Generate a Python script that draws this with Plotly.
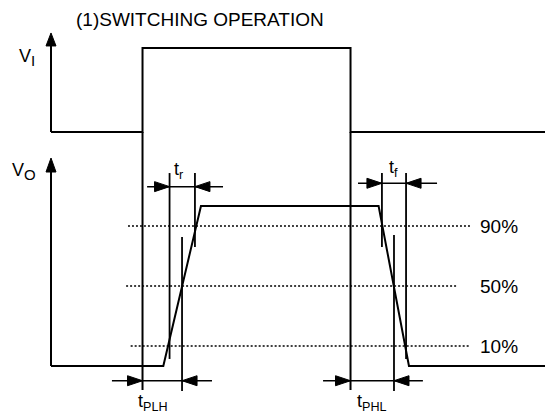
import plotly.graph_objects as go

# ---------------- data (diagram units) ----------------
# time axis in arbitrary units, amplitudes in % of swing
T_END = 241.4

vi_time = [0, 44, 44, 144, 144, T_END]
vi_level = [0, 0, 100, 100, 0, 0]

vo_time = [0, 54, 72.1, 157.5, 172.1, T_END]
vo_level = [0, 0, 100, 100, 0, 0]

# input edge guides extend down through the output panel
edge_time = [44, 144]
edge_bottom = -15
edge_top = 146.25

# threshold levels (as drawn) and their labels
level_pos = [87.5, 50, 12.5]
level_labels = ["90%", "50%", "10%"]
level_start = [37.0, 36.1, 38.3]
level_end = [202.4, 195.7, 201.4]

# vertical measurement guides on output
guide_time = [57, 69.2, 63, 159.1, 170.7, 164.9]
guide_top = [120.6, 120.6, 80.6, 120.6, 120.6, 81.9]
guide_bottom = [4.4, 74.4, -15.6, 74.4, 4.4, -15.6]

# timing intervals (dimension arrows)
interval_names = ["t<sub>r</sub>", "t<sub>f</sub>", "t<sub>PLH</sub>", "t<sub>PHL</sub>"]
interval_start = [57, 159.1, 44, 144]
interval_end = [69.2, 170.7, 63, 164.9]
interval_y = [112.1, 114.2, -9.2, -9.2]
tail_left = [46.2, 147.6, 29.3, 130.8]
tail_right = [82.7, 185.6, 77.4, 178.8]
label_x = [58.0, 161.3, 41.0, 146.0]
label_y = [122.5, 123.7, -22.5, -22.5]

vi_axis_tip = 117.9
vo_axis_tip = 130

TITLE = "(1)SWITCHING OPERATION"
VI_LABEL = "V<sub><span style='font-size:15px'>I</span></sub>"
VO_LABEL = "V<sub><span style='font-size:15px'>O</span></sub>"

# ---------------- layout mapping ----------------
PAGE_W, PAGE_H = 553, 415
OFF = 8                      # default page body margin
W, H = PAGE_W - OFF, PAGE_H - OFF
X0_PX, XSCALE = 51, 2.08     # page px of t=0, px per time unit
VO0_PX, VOSCALE = 366, 1.6   # page px of VO=0, px per %
VI0_PX, VISCALE = 132, 0.84  # page px of VI=0, px per %

X_RANGE = [(OFF - X0_PX) / XSCALE, (OFF + W - X0_PX) / XSCALE]
VO_RANGE = [(VO0_PX - OFF - H) / VOSCALE, (VO0_PX - OFF) / VOSCALE]
VI_RANGE = [(VI0_PX - OFF - H) / VISCALE, (VI0_PX - OFF) / VISCALE]
XPX, VOPX, VIPX = XSCALE, VOSCALE, VISCALE

FONT = "Arial, Liberation Sans, sans-serif"
BLACK = "#000000"
LW = 2

fig = go.Figure()


def line(x, y, yaxis="y", width=LW, dash=None):
    fig.add_trace(go.Scatter(x=x, y=y, mode="lines", yaxis=yaxis,
                             line=dict(color=BLACK, width=width, dash=dash),
                             hoverinfo="skip"))


def head(tx, ty, ux, uy, ypx, yaxis="y", L=14, hw=5):
    bx, by = -ux * L, -uy * L
    pts = [(0, 0), (bx - uy * hw, by + ux * hw), (bx + uy * hw, by - ux * hw), (0, 0)]
    xs = [tx + p[0] / XPX for p in pts]
    ys = [ty + p[1] / ypx for p in pts]
    fig.add_trace(go.Scatter(x=xs, y=ys, mode="lines", fill="toself", yaxis=yaxis,
                             fillcolor=BLACK, line=dict(color=BLACK, width=1),
                             hoverinfo="skip"))


# input waveform and axis
line(vi_time, vi_level, yaxis="y2")
line([0, 0], [0, vi_axis_tip - 8], yaxis="y2")
head(0, vi_axis_tip, 0, 1, VIPX, yaxis="y2", L=13, hw=5)

# output axis
line([0, 0], [0, vo_axis_tip - 8])
head(0, vo_axis_tip, 0, 1, VOPX, L=14, hw=5)

# input edge guides
for t in edge_time:
    line([t, t], [edge_bottom, edge_top])

# threshold dotted lines
for pos, s, e in zip(level_pos, level_start, level_end):
    line([s, e], [pos, pos], width=1.5, dash="2px,2px")

# output waveform
line(vo_time, vo_level)

# guides
for t, top, bot in zip(guide_time, guide_top, guide_bottom):
    line([t, t], [bot, top], width=1.8)

# dimension arrows
for s, e, yv, tl, tr in zip(interval_start, interval_end, interval_y, tail_left, tail_right):
    line([tl, tr], [yv, yv], width=1.5)
    head(s, yv, 1, 0, VOPX, L=15, hw=5)
    head(e, yv, -1, 0, VOPX, L=15, hw=5)

annotations = []
annotations.append(dict(x=71.6, y=1, xref="x", yref="paper", text=TITLE,
                        showarrow=False, xanchor="center", yanchor="top",
                        borderpad=0,
                        font=dict(family=FONT, size=19, color=BLACK)))
annotations.append(dict(x=-16.3, y=88.5, xref="x", yref="y2",
                        text=VI_LABEL, showarrow=False,
                        xanchor="left", yanchor="middle",
                        font=dict(family=FONT, size=18, color=BLACK)))
annotations.append(dict(x=-19.7, y=121.5, xref="x", yref="y",
                        text=VO_LABEL, showarrow=False,
                        xanchor="left", yanchor="middle",
                        font=dict(family=FONT, size=18, color=BLACK)))
for name, lx, ly in zip(interval_names, label_x, label_y):
    annotations.append(dict(x=lx, y=ly, xref="x", yref="y", text=name,
                            showarrow=False, xanchor="left", yanchor="middle",
                            font=dict(family=FONT, size=18, color=BLACK)))
for pos, lab in zip(level_pos, level_labels):
    annotations.append(dict(x=205.3, y=pos, xref="x", yref="y", text=lab,
                            showarrow=False, xanchor="left", yanchor="middle",
                            font=dict(family=FONT, size=19, color=BLACK)))

fig.update_layout(
    width=W, height=H,
    margin=dict(l=0, r=0, t=0, b=0),
    paper_bgcolor="white", plot_bgcolor="white",
    showlegend=False,
    xaxis=dict(range=X_RANGE, visible=False, fixedrange=True),
    yaxis=dict(range=VO_RANGE, visible=False, fixedrange=True, domain=[0, 1]),
    yaxis2=dict(range=VI_RANGE, visible=False, fixedrange=True,
                overlaying="y", domain=[0, 1]),
    annotations=annotations,
)

fig.write_html("out.html")
